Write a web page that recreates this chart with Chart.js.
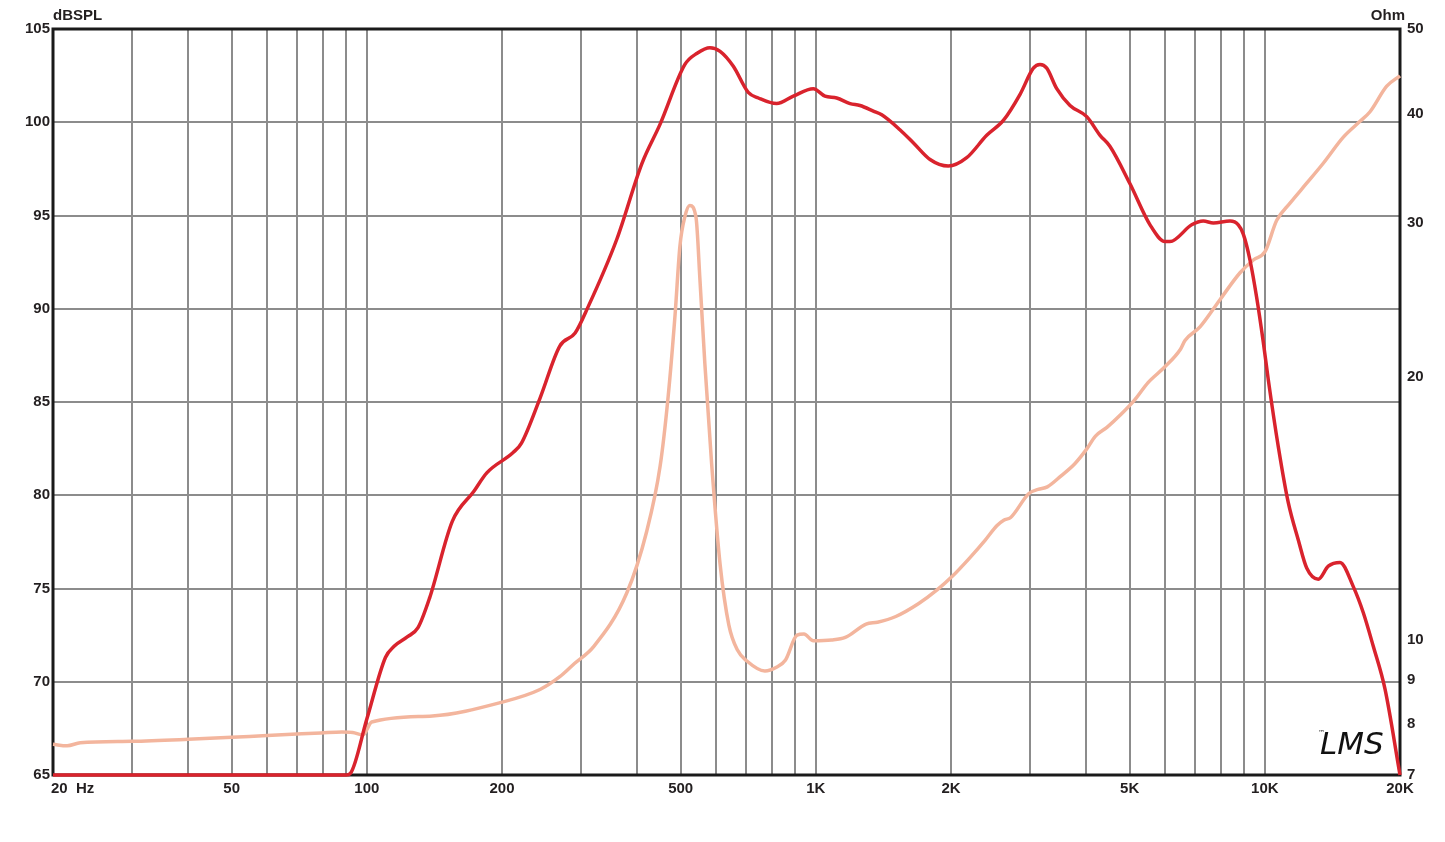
<!DOCTYPE html>
<html>
<head>
<meta charset="utf-8">
<script src="https://cdn.jsdelivr.net/npm/chart.js@4.4.1/dist/chart.umd.min.js"></script>
<style>
  html, body { margin: 0; padding: 0; background: #fff; overflow: hidden; }
  canvas { display: block; }
</style>
</head>
<body>
<canvas id="myChart" width="1445" height="842"></canvas>
<script>
// frequency response (dB SPL)
const splFreq = [20, 90, 92, 100, 110, 115, 123, 130, 138, 155, 173, 185, 212, 221, 243, 269, 291, 311, 360, 410,
  450, 511, 544, 581, 612, 655, 707, 745, 818, 891, 987, 1048, 1113, 1192, 1254, 1343, 1402, 1539, 1648, 1796,
  1972, 2168, 2402, 2616, 2850, 3051, 3157, 3268, 3440, 3682, 4012, 4295, 4521, 5008, 5550, 5993, 6148, 6872, 7294, 7678,
  8364, 8728, 8954, 9268, 9590, 9922, 10178, 10715, 11278, 11872, 12394, 13154, 13846, 14704, 15740, 16570, 17440, 18522, 20000];
const splDb = [65, 65, 65.1, 68, 71.3, 71.9, 72.4, 72.9, 74.5, 78.6, 80.2, 81.2, 82.3, 82.8, 85.2, 88, 88.7, 90.1, 93.7, 97.8,
  99.9, 103.1, 103.7, 104, 103.8, 103, 101.6, 101.3, 101, 101.4, 101.8, 101.4, 101.3, 101, 100.9, 100.6, 100.4, 99.6, 98.9, 98,
  97.65, 98.1, 99.3, 100.1, 101.5, 102.9, 103.1, 102.9, 101.8, 100.9, 100.3, 99.3, 98.7, 96.7, 94.5, 93.6, 93.6, 94.5, 94.7, 94.6,
  94.7, 94.5, 94, 92.6, 90.6, 88.2, 86.2, 82.6, 79.6, 77.6, 76.1, 75.5, 76.2, 76.4, 75.1, 73.7, 71.9, 69.6, 65];

// impedance (Ohm)
const impFreq = [20, 21.5, 23, 30, 40, 50, 60, 79, 88, 93, 98, 102.5, 140, 198, 243, 269, 290, 320, 379, 420,
  450, 469, 486, 498, 511, 524, 541, 552, 566, 586, 612, 640, 669, 701, 770, 817, 856, 908, 941, 987,
  1084, 1163, 1294, 1372, 1507, 1695, 1862, 2008, 2197, 2384, 2529, 2621, 2716, 2982, 3126, 3278, 3518, 3774, 4002, 4196,
  4450, 4778, 5125, 5500, 5974, 6488, 6640, 7171, 7944, 8806, 9428, 10008, 10629, 11378, 12394, 13494, 14957, 16292, 17150, 18684, 20000];
const impOhm = [7.59, 7.56, 7.62, 7.65, 7.69, 7.73, 7.77, 7.82, 7.84, 7.83, 7.78, 8.05, 8.18, 8.47, 8.77, 9.07, 9.39, 9.82, 11.3, 13.3,
  15.8, 19.0, 23.6, 28.2, 30.5, 31.4, 30.4, 25.8, 20.7, 15.9, 12.2, 10.4, 9.73, 9.46, 9.21, 9.30, 9.48, 10.12, 10.15, 9.97,
  9.99, 10.06, 10.42, 10.47, 10.63, 11.0, 11.4, 11.8, 12.39, 13.0, 13.5, 13.7, 13.8, 14.7, 14.86, 14.96, 15.4, 15.9, 16.5, 17.1,
  17.5, 18.1, 18.8, 19.7, 20.5, 21.5, 22.0, 22.8, 24.5, 26.3, 27.2, 27.8, 30.2, 31.6, 33.3, 35.1, 37.6, 39.2, 40.2, 43.0, 44.2];

// axis ticks
const freqGrid = [20, 30, 40, 50, 60, 70, 80, 90, 100, 200, 300, 400, 500, 600, 700, 800, 900, 1000,
  2000, 3000, 4000, 5000, 6000, 7000, 8000, 9000, 10000, 20000];
const freqLabels = {50: '50', 100: '100', 200: '200', 500: '500', 1000: '1K', 2000: '2K', 5000: '5K', 10000: '10K', 20000: '20K'};
const ohmTicks = [7, 8, 9, 10, 20, 30, 40, 50];

const font = {family: "'Liberation Sans', Arial, sans-serif", size: 15, weight: 'bold'};
const ink = '#231f20';

const extras = {
  id: 'extras',
  beforeDatasetsDraw(chart) {
    const {ctx, chartArea: a} = chart;
    ctx.save();
    ctx.strokeStyle = '#1a1a1a';
    ctx.lineWidth = 3;
    ctx.strokeRect(a.left, a.top, a.right - a.left, a.bottom - a.top);
    ctx.restore();
  },
  afterDraw(chart) {
    const {ctx, chartArea: a} = chart;
    ctx.save();
    ctx.fillStyle = ink;
    ctx.font = "bold 15px 'Liberation Sans', Arial, sans-serif";
    ctx.textBaseline = 'middle';
    ctx.textAlign = 'left';
    ctx.fillText('dBSPL', a.left, 16);
    ctx.fillText('20  Hz', a.left - 2, a.bottom + 14);
    ctx.textAlign = 'right';
    ctx.fillText('Ohm', a.right + 5, 16);
    // logo
    ctx.textAlign = 'left';
    ctx.font = "italic 31px 'DejaVu Sans', sans-serif";
    ctx.fillStyle = '#111';
    ctx.fillText('LMS', 1320, 746);
    ctx.font = "7px 'DejaVu Sans', sans-serif";
    ctx.fillText('™', 1318, 733);
    ctx.restore();
  }
};

new Chart(document.getElementById('myChart'), {
  type: 'line',
  data: {
    datasets: [{
      label: 'SPL',
      data: splFreq.map((f, i) => ({x: f, y: splDb[i]})),
      borderColor: '#d9232d',
      borderWidth: 3.5,
      pointRadius: 0,
      cubicInterpolationMode: 'monotone',
      yAxisID: 'y',
      order: 0,
      clip: 6
    }, {
      label: 'Impedance',
      data: impFreq.map((f, i) => ({x: f, y: impOhm[i]})),
      borderColor: '#f3b59d',
      borderWidth: 3.5,
      pointRadius: 0,
      cubicInterpolationMode: 'monotone',
      yAxisID: 'y2',
      order: 1,
      clip: 6
    }]
  },
  options: {
    responsive: false,
    animation: false,
    devicePixelRatio: 1,
    layout: {padding: {top: 29, left: 0, right: 0, bottom: 0}},
    plugins: {legend: {display: false}, tooltip: {enabled: false}},
    scales: {
      x: {
        type: 'logarithmic',
        min: 20,
        max: 20000,
        afterBuildTicks: s => { s.ticks = freqGrid.map(v => ({value: v})); },
        afterFit: s => { s.height = 842 - 775; },
        ticks: {
          autoSkip: false,
          maxRotation: 0,
          padding: 5,
          color: ink,
          font: font,
          callback: v => freqLabels[v] || ''
        },
        grid: {color: '#8c8c8c', lineWidth: 2, drawTicks: false},
        border: {display: false}
      },
      y: {
        position: 'left',
        min: 65,
        max: 105,
        afterFit: s => { s.width = 53; },
        ticks: {stepSize: 5, padding: 3, color: ink, font: font},
        grid: {color: '#8c8c8c', lineWidth: 2, drawTicks: false},
        border: {display: false}
      },
      y2: {
        type: 'logarithmic',
        position: 'right',
        min: 7,
        max: 50,
        afterBuildTicks: s => { s.ticks = ohmTicks.map(v => ({value: v})); },
        afterFit: s => { s.width = 1445 - 1400; },
        ticks: {padding: 7, color: ink, font: font, callback: v => String(v)},
        grid: {display: false, drawTicks: false},
        border: {display: false}
      }
    }
  },
  plugins: [extras]
});
</script>
</body>
</html>
